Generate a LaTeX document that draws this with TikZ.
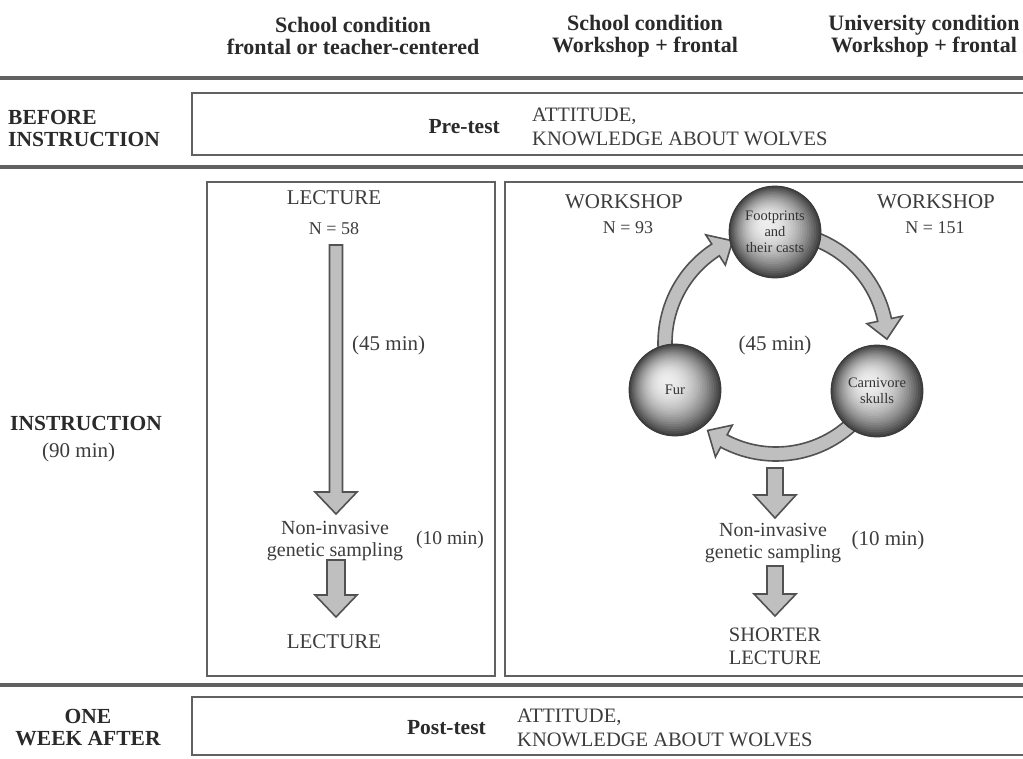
\documentclass[tikz,border=0pt]{standalone}
\usepackage{fontspec}
\setmainfont{Liberation Serif}
\usetikzlibrary{calc}
\definecolor{txt}{HTML}{3C3C3C}
\definecolor{txtb}{HTML}{2A2A2A}
\newcommand\blockarr[5]{%
  \draw[blockarrow] ($(#1)+(-#3,0)$) -- ($(#1)+(#3,0)$) -- ($(#2)+(#3,#5)$) -- ($(#2)+(#4,#5)$) -- (#2) -- ($(#2)+(-#4,#5)$) -- ($(#2)+(-#3,#5)$) -- cycle;}
\newcommand\cyclearr[3]{%
  \draw[blockarrow] ([shift={(#1:118)}]C) arc[start angle=#1, end angle=#3, radius=118]
    -- ([shift={(#3:129)}]C) -- ([shift={(#2:111)}]C) -- ([shift={(#3:93)}]C)
    -- ([shift={(#3:104)}]C) arc[start angle=#3, end angle=#1, radius=104] -- cycle;}
\newcommand\spherefill[1]{%
  \foreach \i in {0,...,23}{%
    \pgfmathsetmacro\tt{\i/23}%
    \pgfmathsetmacro\pp{7+68*(1-\tt)^2}%
    \fill[black!\pp] ($(#1)+(-9*\tt,9*\tt)$) circle[radius={46*(1-0.96*\tt)}];}}
\begin{document}
\begin{tikzpicture}[x=1pt,y=1pt,
  lbl/.style={font=\fontsize{21}{23}\selectfont, text=txt, inner sep=0, align=center},
  sml/.style={font=\fontsize{18}{20}\selectfont, text=txt, inner sep=0, align=center},
  hdr/.style={font=\bfseries\fontsize{22}{22}\selectfont, text=txtb, inner sep=0, align=center},
  side/.style={font=\bfseries\fontsize{21.5}{22}\selectfont, text=txtb, inner sep=0},
  test/.style={font=\fontsize{20.5}{24}\selectfont, text=txt, inner sep=0, align=left, anchor=west},
  rulel/.style={line width=3.2, draw=black!62},
  frame/.style={line width=2.6, draw=black!62},
  blockarrow/.style={draw=black!68, fill=black!25, line width=1.6, line join=miter},
  sphere/.style={circle, minimum size=92, inner sep=0,
    draw=black!78, line width=0.8, font=\fontsize{14.5}{16}\selectfont, text=black!80, align=center}]
\clip (0,0) rectangle (1023,-758);
\fill[white] (0,0) rectangle (1023,-758);

% headers
\node[hdr] (h1) at (353,-36) {School condition\\frontal or teacher-centered};
\node[hdr] (h2) at (645,-36) {School condition\\Workshop + frontal};
\node[hdr] (h3) at (924,-36) {University condition\\Workshop + frontal};

% rules
\draw[rulel] (0,-78) -- (1023,-78);
\draw[rulel] (0,-167) -- (1023,-167);
\draw[rulel] (0,-685) -- (1023,-685);

% boxes
\draw[frame] (192,-93) rectangle (1040,-155);
\draw[frame] (207,-182) rectangle (495,-676);
\draw[frame] (505,-182) rectangle (1040,-676);
\draw[frame] (192,-697) rectangle (1040,-755);

% side labels
\node[side, align=left, anchor=west] (before) at (8,-128) {BEFORE\\INSTRUCTION};
\node[side, anchor=west] (instr) at (10,-423) {INSTRUCTION};
\node[lbl, anchor=west] (instr90) at (42,-452) {(90 min)};
\node[side, align=center] (week) at (88,-728) {ONE\\WEEK AFTER};

% pre / post test
\node[side, anchor=east] (pre) at (500,-127) {Pre-test};
\node[test] (pretxt) at (532,-127) {ATTITUDE,\\KNOWLEDGE ABOUT WOLVES};
\node[side, anchor=east] (post) at (486,-728) {Post-test};
\node[test] (posttxt) at (517,-728) {ATTITUDE,\\KNOWLEDGE ABOUT WOLVES};

% left instruction box
\node[lbl] (lect1) at (334,-198) {LECTURE};
\node[sml] (n58) at (334,-229) {N = 58};
\node[lbl, anchor=west] (m45a) at (352,-345) {(45 min)};
\node[lbl, font=\fontsize{20}{22}\selectfont] (nisa) at (335,-541) {Non-invasive\\genetic sampling};
\node[lbl, font=\fontsize{19.5}{22}\selectfont] (m10a) at (450,-540) {(10 min)};
\node[lbl] (lect2) at (334,-642) {LECTURE};
\coordinate (la1s) at (336,-245);
\coordinate (la1e) at (336,-514);
\coordinate (la2s) at (336,-560);
\coordinate (la2e) at (336,-617);
\blockarr{la1s}{la1e}{6.5}{21}{22}
\blockarr{la2s}{la2e}{9}{21}{22}

% right instruction box
\node[lbl] (ws1) at (624,-202) {WORKSHOP};
\node[sml] (n93) at (628,-228) {N = 93};
\node[lbl] (ws2) at (936,-202) {WORKSHOP};
\node[sml] (n151) at (935,-228) {N = 151};
\node[lbl] (m45b) at (775,-345) {(45 min)};
\node[lbl, font=\fontsize{20}{22}\selectfont] (nisb) at (773,-543) {Non-invasive\\genetic sampling};
\node[lbl] (m10b) at (888,-540) {(10 min)};
\node[lbl, font=\fontsize{20.5}{23}\selectfont] (short) at (775,-646) {SHORTER\\LECTURE};
\coordinate (ra1s) at (775,-468);
\coordinate (ra1e) at (775,-518);
\coordinate (ra2s) at (775,-566);
\coordinate (ra2e) at (775,-616);
\blockarr{ra1s}{ra1e}{8}{21}{23}
\blockarr{ra2s}{ra2e}{8}{21}{22}

% cycle
\coordinate (C) at (776,-343);
\cyclearr{70}{2}{12}
\cyclearr{-48}{-128}{-118}
\cyclearr{185}{113}{123}
\coordinate (footc) at (775,-232);
\coordinate (furc) at (675,-390);
\coordinate (skullc) at (877,-391);
\spherefill{footc}
\spherefill{furc}
\spherefill{skullc}
\node[sphere] (foot) at (footc) {Footprints\\and\\their casts};
\node[sphere] (fur) at (furc) {Fur};
\node[sphere] (skull) at (skullc) {Carnivore\\skulls};
\end{tikzpicture}
\end{document}
